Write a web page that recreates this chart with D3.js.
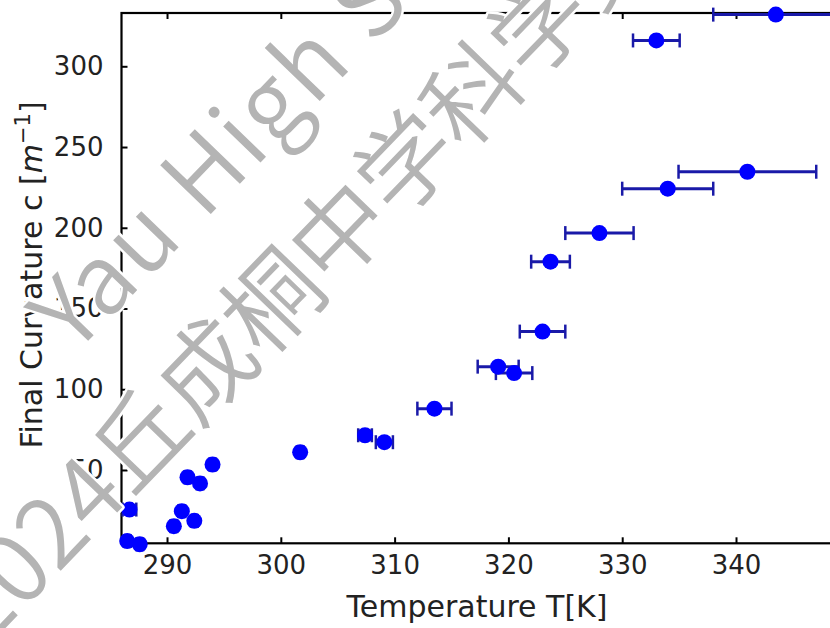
<!DOCTYPE html>
<html>
<head>
<meta charset="utf-8">
<script src="https://cdn.jsdelivr.net/npm/d3@7"></script>
<style>
    body { margin: 0; background: #fff; }
    svg { display: block; }
</style>
</head>
<body>
<div id="chart"></div>
<script>
// measured points: temperature T [K], curvature c [1/m], x error on T
const temperature = [286.7, 286.5, 287.6, 290.6, 291.3, 292.4, 291.8, 292.9, 294.0, 301.7,
    307.4, 309.1, 313.5, 319.1, 320.5, 323.0, 323.7, 328.0, 334.0, 341.0, 333.0, 343.5];
const curvature = [25.5, 6.0, 4.0, 15.2, 24.5, 18.5, 45.5, 41.7, 53.4, 61.0,
    71.5, 67.2, 88.0, 114.0, 110.0, 135.7, 179.0, 196.7, 224.2, 234.7, 316.0, 332.0];
const tempErr = [0.6, 0.3, 0.3, 0.3, 0.3, 0.3, 0.3, 0.3, 0.3, 0.3,
    0.6, 0.75, 1.5, 1.8, 1.6, 2.0, 1.7, 3.0, 4.0, 6.05, 2.05, 5.5];

const xTicks = [290, 300, 310, 320, 330, 340];
const yTicks = [50, 100, 150, 200, 250, 300];
const xDomain = [286, 350];
const yDomain = [4.6, 333];

const watermarkLines = ["Yau High School Science Award", "2024丘成桐中学科学奖"];

const width = 830;
const height = 628;
const margin = { top: 13, left: 121.5, bottom: 543.3, right: 849.8 };
const font = "'DejaVu Sans', sans-serif";
const markerColour = "#0000ff";
const barColour = "#1a1aa8";

const points = temperature.map((t, i) => ({ t, c: curvature[i], err: tempErr[i] }));

const x = d3.scaleLinear().domain(xDomain).range([margin.left, margin.right]);
const y = d3.scaleLinear().domain(yDomain).range([margin.bottom, margin.top]);

const svg = d3.select("#chart").append("svg")
    .attr("width", width)
    .attr("height", height)
    .attr("viewBox", [0, 0, width, height]);

// axes, ticks pointing inward like matplotlib direction="in"
const styleAxis = (g) => {
    g.selectAll(".domain").remove();
    g.selectAll(".tick line").attr("stroke", "#000").attr("stroke-width", 2);
    g.selectAll(".tick text").attr("font-family", font).attr("font-size", 26).attr("fill", "#222");
};

svg.append("g")
    .attr("transform", `translate(0, ${margin.bottom})`)
    .call(d3.axisBottom(x).tickValues(xTicks).tickSizeInner(-6).tickPadding(12).tickFormat(d3.format("d")))
    .call(styleAxis)
    .selectAll(".tick text").attr("dy", "0.71em").attr("y", 12);

svg.append("g")
    .attr("transform", `translate(0, ${margin.top})`)
    .call(d3.axisTop(x).tickValues(xTicks).tickSizeInner(-6).tickFormat(""))
    .call(styleAxis);

svg.append("g")
    .attr("transform", `translate(${margin.left}, 0)`)
    .call(d3.axisLeft(y).tickValues(yTicks).tickSizeInner(-6).tickPadding(18).tickFormat(d3.format("d")))
    .call(styleAxis);

svg.append("g")
    .attr("transform", `translate(${margin.right}, 0)`)
    .call(d3.axisRight(y).tickValues(yTicks).tickSizeInner(-6).tickFormat(""))
    .call(styleAxis);

svg.append("rect")
    .attr("x", margin.left)
    .attr("y", margin.top)
    .attr("width", margin.right - margin.left)
    .attr("height", margin.bottom - margin.top)
    .attr("fill", "none")
    .attr("stroke", "#000")
    .attr("stroke-width", 2.2);

// error bars
const bars = svg.append("g")
    .attr("stroke", barColour)
    .attr("stroke-width", 3);

bars.selectAll("line.bar")
    .data(points)
    .join("line")
    .attr("class", "bar")
    .attr("x1", (d) => x(d.t - d.err))
    .attr("x2", (d) => x(d.t + d.err))
    .attr("y1", (d) => y(d.c))
    .attr("y2", (d) => y(d.c));

bars.selectAll("line.capl")
    .data(points)
    .join("line")
    .attr("class", "capl")
    .attr("stroke-width", 2.5)
    .attr("x1", (d) => x(d.t - d.err))
    .attr("x2", (d) => x(d.t - d.err))
    .attr("y1", (d) => y(d.c) - 7)
    .attr("y2", (d) => y(d.c) + 7);

bars.selectAll("line.capr")
    .data(points)
    .join("line")
    .attr("class", "capr")
    .attr("stroke-width", 2.5)
    .attr("x1", (d) => x(d.t + d.err))
    .attr("x2", (d) => x(d.t + d.err))
    .attr("y1", (d) => y(d.c) - 7)
    .attr("y2", (d) => y(d.c) + 7);

svg.append("g")
    .selectAll("circle")
    .data(points)
    .join("circle")
    .attr("cx", (d) => x(d.t))
    .attr("cy", (d) => y(d.c))
    .attr("r", 8)
    .attr("fill", markerColour);

// axis labels
svg.append("text")
    .attr("x", 477)
    .attr("y", 617)
    .attr("text-anchor", "middle")
    .attr("font-family", font)
    .attr("font-size", 30)
    .attr("fill", "#222")
    .text("Temperature T[K]");

const yLabel = svg.append("text")
    .attr("transform", "translate(42, 275) rotate(-90)")
    .attr("text-anchor", "middle")
    .attr("font-family", font)
    .attr("font-size", 30)
    .attr("fill", "#222");
yLabel.append("tspan").text("Final Curvature c [");
yLabel.append("tspan").attr("font-style", "italic").text("m");
yLabel.append("tspan").attr("font-size", 21).attr("dy", -12).text("−1");
yLabel.append("tspan").attr("dy", 12).text("]");

// watermark over the chart
const wm = svg.append("g")
    .attr("transform", "translate(165, 411) rotate(-46)")
    .attr("font-family", "'Noto Sans CJK SC', 'Noto Sans', sans-serif")
    .attr("font-weight", 350)
    .attr("font-size", 96)
    .attr("fill", "#b4b4b4")
    .attr("stroke", "#fff")
    .attr("stroke-width", 5)
    .attr("paint-order", "stroke")
    .attr("stroke-linejoin", "round");

wm.append("text").attr("x", -24).attr("y", -104).attr("letter-spacing", 3).text(watermarkLines[0]);
wm.append("text").attr("x", -297).attr("y", 36).text(watermarkLines[1]);
</script>
</body>
</html>
